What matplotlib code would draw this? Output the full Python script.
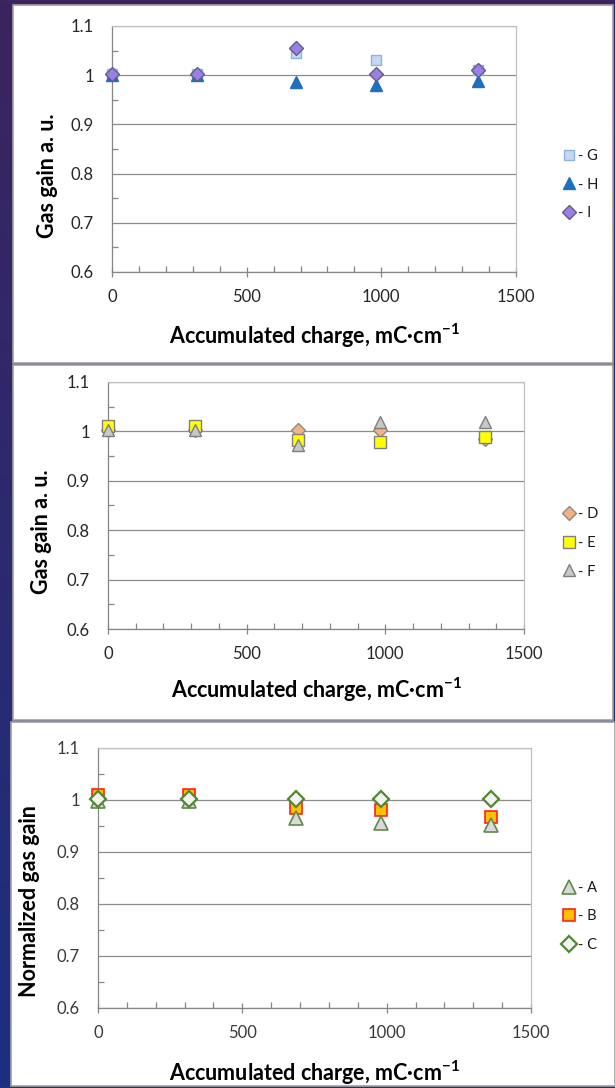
import numpy as np
import matplotlib
matplotlib.use("Agg")
import matplotlib.pyplot as plt
from matplotlib.patches import Rectangle
from matplotlib.ticker import MultipleLocator, FixedLocator

plt.rcParams['font.family'] = ['Lato', 'DejaVu Sans']
plt.rcParams['mathtext.fontset'] = 'custom'
plt.rcParams['mathtext.rm'] = 'Lato'
plt.rcParams['mathtext.bf'] = 'Lato:bold'

# ---------------- data ----------------
charge = [0, 315, 685, 980, 1360]

gain_G = [1.002, 1.002, 1.045, 1.031, 1.010]
gain_H = [1.000, 1.000, 0.987, 0.980, 0.988]
gain_I = [1.003, 1.003, 1.055, 1.003, 1.010]

gain_D = [1.003, 1.003, 1.003, 1.003, 0.984]
gain_E = [1.010, 1.010, 0.983, 0.979, 0.989]
gain_F = [1.003, 1.003, 0.973, 1.020, 1.020]

gain_A = [0.999, 0.999, 0.966, 0.955, 0.952]
gain_B = [1.010, 1.010, 0.984, 0.981, 0.968]
gain_C = [1.001, 1.001, 1.001, 1.001, 1.001]

x_ticks = [0, 500, 1000, 1500]
y_ticks = [0.6, 0.7, 0.8, 0.9, 1.0, 1.1]
y_ticklabels = ['0.6', '0.7', '0.8', '0.9', '1', '1.1']
xlabel = 'Accumulated charge, mC·cm$^{\\mathbf{-1}}$'

W, H = 615, 1088
fig = plt.figure(figsize=(W / 100, H / 100), dpi=100)

# background gradient + white panels
bg = fig.add_axes([0, 0, 1, 1], zorder=-10)
bg.set_axis_off()
top = np.array([0x3c, 0x24, 0x5e]) / 255
bot = np.array([0x1c, 0x2f, 0x80]) / 255
t = np.linspace(0, 1, 256)[:, None]
grad = top[None, :] * (1 - t) + bot[None, :] * t
bg.imshow(grad[:, None, :], aspect='auto', extent=[0, 1, 0, 1], zorder=0)
bg.set_xlim(0, 1)
bg.set_ylim(0, 1)

for (x0, y0, x1, y1) in [(13, 5, 613, 363), (13, 365, 613, 720), (11, 722, 615, 1086)]:
    bg.add_patch(Rectangle((x0 / W, 1 - y1 / H), (x1 - x0) / W, (y1 - y0) / H,
                           transform=bg.transAxes, facecolor='white',
                           edgecolor='#a0a0a0', linewidth=1.2, zorder=2))


def make_ax(x0, y0, x1, y1):
    return fig.add_axes([x0 / W, 1 - y1 / H, (x1 - x0) / W, (y1 - y0) / H])


def style(ax, ylabel, ylab_pos, xlab_y, tickcolor='#262626'):
    ax.set_xlim(0, 1500)
    ax.set_ylim(0.6, 1.1)
    ax.set_facecolor('white')
    ax.xaxis.set_major_locator(FixedLocator(x_ticks))
    ax.xaxis.set_minor_locator(MultipleLocator(100))
    ax.yaxis.set_major_locator(FixedLocator(y_ticks))
    ax.set_yticklabels(y_ticklabels)
    ax.yaxis.set_minor_locator(MultipleLocator(0.05))
    ax.grid(axis='y', which='major', color='#8c8c8c', linewidth=0.9, zorder=0)
    ax.set_axisbelow(True)
    for s in ['top', 'right']:
        ax.spines[s].set_color('#c0c0c0')
        ax.spines[s].set_linewidth(0.9)
    for s in ['left', 'bottom']:
        ax.spines[s].set_color('#868686')
        ax.spines[s].set_linewidth(0.9)
    ax.tick_params(axis='x', which='major', direction='inout', length=7, width=0.9,
                   color='#868686', pad=9, labelsize=12, labelcolor=tickcolor)
    ax.tick_params(axis='x', which='minor', direction='in', length=4, width=0.9,
                   color='#868686')
    ax.tick_params(axis='y', which='major', length=0, pad=13, labelsize=12,
                   labelcolor=tickcolor)
    ax.tick_params(axis='y', which='minor', direction='in', length=4, width=0.9,
                   color='#868686')
    ax.set_ylabel(ylabel, fontsize=15.5, fontweight='bold', color='black')
    ax.yaxis.set_label_coords(ylab_pos[0], ylab_pos[1])
    ax.set_xlabel(xlabel, fontsize=15.5, fontweight='bold', color='black')
    ax.xaxis.set_label_coords(0.5, xlab_y)


def legend(handles, labels, xc, yc):
    fig.legend(handles, labels, loc='center left',
               bbox_to_anchor=((xc - 6.5) / W, 1 - yc / H),
               frameon=False, fontsize=10.5, handlelength=0.9, handletextpad=0.2,
               labelspacing=1.0, borderpad=0, borderaxespad=0, labelcolor='#1a1a1a')


# ---------------- panel 1 ----------------
ax1 = make_ax(112, 26, 516, 272)
hG, = ax1.plot(charge, gain_G, ls='none', marker='s', ms=7.5, mfc='#c6d9f1',
               mec='#8db3e2', mew=1.0, zorder=3, clip_on=False)
hH, = ax1.plot(charge, gain_H, ls='none', marker='^', ms=8, mfc='#1f6fbf',
               mec='#1f6fbf', mew=1.0, zorder=4, clip_on=False)
hI, = ax1.plot(charge, gain_I, ls='none', marker='D', ms=7.5, mfc='#9b7fe6',
               mec='#5f5f80', mew=1.0, zorder=5, clip_on=False)
style(ax1, 'Gas gain a. u.', (-0.134, 0.39), -0.2)
legend([hG, hH, hI], ['- G', '- H', '- I'], 568.5, 184.5)

# ---------------- panel 2 ----------------
ax2 = make_ax(108, 382, 524, 629)
hD, = ax2.plot(charge, gain_D, ls='none', marker='D', ms=7, mfc='#f4b183',
               mec='#8a8a8a', mew=1.0, zorder=3, clip_on=False)
hE, = ax2.plot(charge, gain_E, ls='none', marker='s', ms=8.5, mfc='#ffff00',
               mec='#7f7f7f', mew=1.0, zorder=4, clip_on=False)
hF, = ax2.plot(charge, gain_F, ls='none', marker='^', ms=8.5, mfc='#c8c8c8',
               mec='#7f7f7f', mew=1.0, zorder=5, clip_on=False)
style(ax2, 'Gas gain a. u.', (-0.135, 0.393), -0.19)
legend([hD, hE, hF], ['- D', '- E', '- F'], 568.5, 543)

# ---------------- panel 3 ----------------
ax3 = make_ax(98, 748, 531, 1008)
hB, = ax3.plot(charge, gain_B, ls='none', marker='s', ms=9, mfc='#ffc000',
               mec='#ff2020', mew=1.2, zorder=3, clip_on=False)
hA, = ax3.plot(charge, gain_A, ls='none', marker='^', ms=9.5, mfc='#d9d9d9',
               mec='#5f8a4a', mew=1.2, zorder=4, clip_on=False)
hC, = ax3.plot(charge, gain_C, ls='none', marker='D', ms=8, mfc='#f2f2f2',
               mec='#4f8a2f', mew=1.6, zorder=5, clip_on=False)
style(ax3, 'Normalized gas gain', (-0.134, 0.41), -0.196, tickcolor='#3a3a3a')
legend([hA, hB, hC], ['- A', '- B', '- C'], 568.5, 916.5)

fig.savefig('out.png', dpi=100)
